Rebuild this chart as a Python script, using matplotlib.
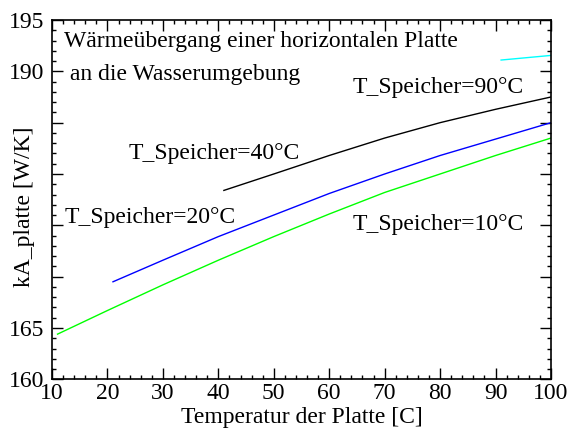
import matplotlib
matplotlib.use("Agg")
import matplotlib.pyplot as plt
from matplotlib.ticker import MultipleLocator, FixedLocator

plt.rcParams['font.family'] = ['Liberation Serif', 'DejaVu Serif']

# data
t10 = [11, 20, 30, 40, 50, 60, 70, 80, 90, 100]
k10 = [164.4, 166.7, 169.2, 171.6, 173.9, 176.1, 178.2, 180.0, 181.8, 183.5]
t20 = [21, 30, 40, 50, 60, 70, 80, 90, 100]
k20 = [169.5, 171.6, 173.9, 176.0, 178.1, 180.0, 181.8, 183.4, 185.0]
t40 = [41, 50, 60, 70, 80, 90, 100]
k40 = [178.4, 180.0, 181.8, 183.5, 185.0, 186.3, 187.5]
t90 = [91, 100]
k90 = [191.1, 191.55]

yticks = [160, 165, 170, 175, 180, 185, 190, 195]
ytick_labels = ['160', '165', '', '', '', '', '190', '195']
xticks = [10, 20, 30, 40, 50, 60, 70, 80, 90, 100]

W, H = 569, 433
fig = plt.figure(figsize=(W / 100, H / 100), dpi=100)
L, R, T, B = 52, 551, 20, 379.3
ax = fig.add_axes([L / W, (H - B) / H, (R - L) / W, (B - T) / H])

ax.plot(t10, k10, color='#00ff00', lw=1.0)
ax.plot(t20, k20, color='#0000ff', lw=1.0)
ax.plot(t40, k40, color='black', lw=1.0)
ax.plot(t90, k90, color='#00ffff', lw=1.0)

ax.set_xlim(10, 100)
ax.set_ylim(160, 195)
ax.xaxis.set_major_locator(FixedLocator(xticks))
ax.xaxis.set_minor_locator(MultipleLocator(2))
ax.yaxis.set_major_locator(FixedLocator(yticks))
ax.yaxis.set_minor_locator(MultipleLocator(1))
ax.set_yticklabels(ytick_labels)
ax.tick_params(which='both', direction='in', top=True, right=True, labelsize=17, width=1.0)
ax.tick_params(which='major', length=8)
ax.tick_params(which='minor', length=3)
ax.tick_params(axis='x', which='major', pad=2.5)
ax.tick_params(axis='y', which='major', pad=5.5)
for s in ax.spines.values():
    s.set_linewidth(1.2)

fs = 17
def px(x, y):
    return ((x - L) / (R - L), (B - y) / (B - T))

texts = [
    (64, 47, 'Wärmeübergang einer horizontalen Platte'),
    (64, 80, ' an die Wasserumgebung'),
    (353, 93, 'T_Speicher=90°C'),
    (129, 159, 'T_Speicher=40°C'),
    (65, 223, 'T_Speicher=20°C'),
    (353, 230, 'T_Speicher=10°C'),
]
for x, y, s in texts:
    fx, fy = px(x, y)
    ax.text(fx, fy, s, transform=ax.transAxes, ha='left', va='baseline', fontsize=fs)

fig.text((L + R) / 2 / W, 1 - 417 / H, 'Temperatur der Platte [C]', ha='center', va='center', fontsize=fs)
fig.text(25 / W, 1 - 207 / H, 'kA_platte [W/K]', ha='center', va='center', rotation=90, fontsize=fs)

fig.savefig('out.png', dpi=100)
